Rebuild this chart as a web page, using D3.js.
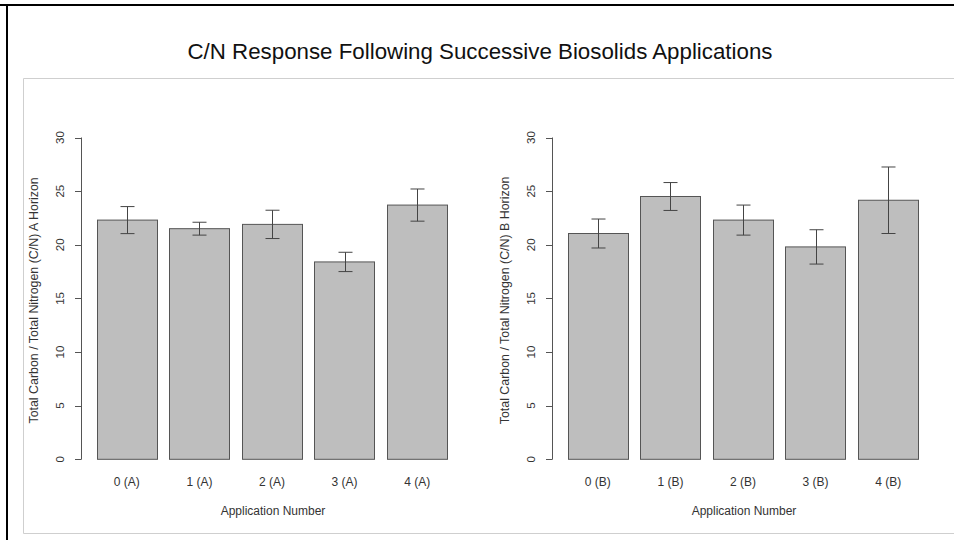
<!DOCTYPE html>
<html>
<head>
<meta charset="utf-8">
<script src="https://cdn.jsdelivr.net/npm/d3@7"></script>
<style>
  html, body { margin: 0; padding: 0; background: #fff; }
  svg { display: block; font-family: "Liberation Sans", Arial, Helvetica, sans-serif; }
</style>
</head>
<body>
<svg id="chart" width="954" height="540"></svg>
<script>
// Application numbers per horizon
const labelsA = ['0 (A)', '1 (A)', '2 (A)', '3 (A)', '4 (A)']
const labelsB = ['0 (B)', '1 (B)', '2 (B)', '3 (B)', '4 (B)']

// Mean C/N ratio and error (+/-) per application
const meanA = [22.3, 21.5, 21.9, 18.4, 23.7]
const errA = [1.26, 0.6, 1.32, 0.9, 1.5]
const meanB = [21.05, 24.5, 22.3, 19.8, 24.15]
const errB = [1.35, 1.3, 1.4, 1.6, 3.1]

const yTicks = [0, 5, 10, 15, 20, 25, 30]

const svg = d3.select('#chart')

// Page frame: black top/left edge, light grey inner panel
svg.append('line').attr('x1', 0).attr('x2', 954).attr('y1', 5).attr('y2', 5)
  .attr('stroke', '#000').attr('stroke-width', 2)
svg.append('line').attr('x1', 7).attr('x2', 7).attr('y1', 4).attr('y2', 540)
  .attr('stroke', '#000').attr('stroke-width', 2)
svg.append('path').attr('d', 'M954,78.5H23.5V533.5H954')
  .attr('fill', 'none').attr('stroke', '#cfcfcf').attr('stroke-width', 1)

svg.append('text')
  .attr('x', 480).attr('y', 59)
  .attr('text-anchor', 'middle')
  .style('font-size', '22.3px')
  .style('fill', '#111')
  .text('C/N Response Following Successive Biosolids Applications')

const y = d3.scaleLinear().domain([0, 30]).range([459.3, 137.5])

function drawPanel(x0, labels, means, errs, yTitle) {
  const g = svg.append('g')
  const x = d3.scaleBand().domain(labels).range([x0 + 9.5, x0 + 372.5]).paddingInner(0.167).paddingOuter(0.083)

  // y axis (R style: vertical labels)
  g.append('line').attr('x1', x0 + 0.5).attr('x2', x0 + 0.5)
    .attr('y1', y(0)).attr('y2', y(30)).attr('stroke', '#555')
  yTicks.forEach(t => {
    g.append('line').attr('x1', x0 - 6).attr('x2', x0 + 0.5)
      .attr('y1', Math.round(y(t)) + 0.5).attr('y2', Math.round(y(t)) + 0.5).attr('stroke', '#555')
    g.append('text')
      .attr('transform', `translate(${x0 - 17},${y(t)}) rotate(-90)`)
      .attr('text-anchor', 'middle')
      .style('font-size', '11.5px').style('fill', '#333')
      .text(t)
  })
  g.append('text')
    .attr('transform', `translate(${x0 - 43},${(y(0) + y(30)) / 2 + 2}) rotate(-90)`)
    .attr('text-anchor', 'middle')
    .style('font-size', '12.4px').style('fill', '#333')
    .text(yTitle)

  labels.forEach((lab, i) => {
    const bx = x(lab), bw = x.bandwidth()
    g.append('rect')
      .attr('x', Math.round(bx) + 0.5).attr('y', y(means[i]))
      .attr('width', Math.round(bw)).attr('height', y(0) - y(means[i]))
      .attr('fill', '#bebebe').attr('stroke', '#555').attr('stroke-width', 1)
    const cx = Math.round(bx + bw / 2) + 0.5
    const hi = y(means[i] + errs[i]), lo = y(means[i] - errs[i])
    g.append('line').attr('x1', cx).attr('x2', cx).attr('y1', hi).attr('y2', lo)
      .attr('stroke', '#444')
    ;[hi, lo].forEach(v => {
      g.append('line').attr('x1', cx - 7).attr('x2', cx + 7).attr('y1', v).attr('y2', v)
        .attr('stroke', '#444')
    })
    g.append('text')
      .attr('x', bx + bw / 2).attr('y', 486)
      .attr('text-anchor', 'middle')
      .style('font-size', '12px').style('fill', '#333')
      .text(lab)
  })

  g.append('text')
    .attr('x', x0 + 192).attr('y', 515)
    .attr('text-anchor', 'middle')
    .style('font-size', '12px').style('fill', '#333')
    .text('Application Number')
}

drawPanel(81, labelsA, meanA, errA, 'Total Carbon / Total Nitrogen (C/N) A Horizon')
drawPanel(552, labelsB, meanB, errB, 'Total Carbon / Total Nitrogen (C/N) B Horizon')
</script>
</body>
</html>
